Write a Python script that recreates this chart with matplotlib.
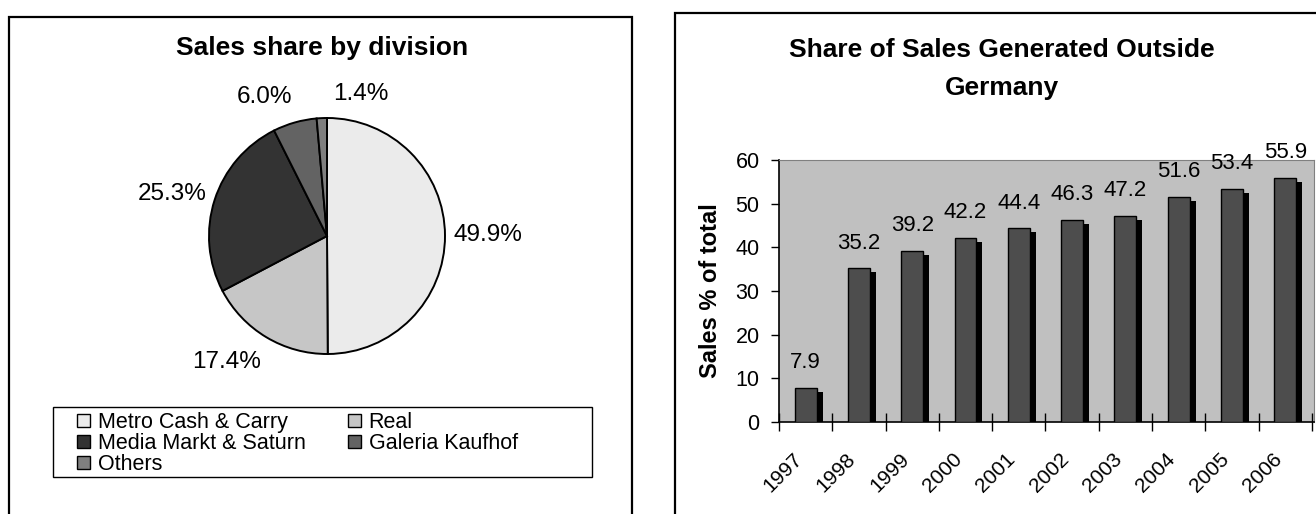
import numpy as np
import matplotlib
matplotlib.use('Agg')
import matplotlib.pyplot as plt
from matplotlib.patches import Rectangle, Patch
from matplotlib.transforms import ScaledTranslation

plt.rcParams['font.family'] = ['Liberation Sans', 'DejaVu Sans']

# Data
divisions = ['Metro Cash & Carry', 'Real', 'Media Markt & Saturn', 'Galeria Kaufhof', 'Others']
shares = [49.9, 17.4, 25.3, 6.0, 1.4]
pie_colors = ['#ebebeb', '#c6c6c6', '#333333', '#636363', '#7f7f7f']

years = ['1997', '1998', '1999', '2000', '2001', '2002', '2003', '2004', '2005', '2006']
outside_share = [7.9, 35.2, 39.2, 42.2, 44.4, 46.3, 47.2, 51.6, 53.4, 55.9]

W, H = 1316, 514


def fx(px):
    return px / W


def fy(py):
    return 1 - py / H


fig = plt.figure(figsize=(W / 100, H / 100), dpi=100)

# panel frames
fig.add_artist(Rectangle((fx(9), -0.1), fx(632) - fx(9), fy(17) + 0.1,
                         transform=fig.transFigure, fill=False, lw=1.6, ec='black'))
fig.add_artist(Rectangle((fx(675), -0.1), 0.5, fy(13) + 0.1,
                         transform=fig.transFigure, fill=False, lw=1.6, ec='black'))

# ---- pie ----
ax1 = fig.add_axes([fx(209), fy(354), fx(236), 236 / H])
wedges, _ = ax1.pie(shares, colors=pie_colors, startangle=90, counterclock=False,
                    wedgeprops=dict(edgecolor='black', linewidth=1.4))
ax1.set_xlim(-1, 1)
ax1.set_ylim(-1, 1)
label_pos = [(1.36, 0.01), (-0.85, -1.07), (-1.31, 0.36), (-0.53, 1.18), (0.29, 1.20)]
for v, (lx, ly) in zip(shares, label_pos):
    ax1.text(lx, ly, f'{v:.1f}%', ha='center', va='center', fontsize=17.5, clip_on=False)

fig.text(fx(322), fy(48), 'Sales share by division', ha='center', va='center',
         fontsize=19, fontweight='bold')

# legend box + entries in row order
fig.add_artist(Rectangle((fx(53), fy(477)), fx(592) - fx(53), 70 / H,
                         transform=fig.transFigure, fill=False, lw=1.0, ec='black'))
handles = [Patch(facecolor=c, edgecolor='black', linewidth=1.0) for c in pie_colors]
order = [0, 2, 4, 1, 3]
fig.legend([handles[i] for i in order], [divisions[i] for i in order],
           ncol=2, loc='upper left', bbox_to_anchor=(fx(77), fy(412)),
           frameon=False, fontsize=15.5, handlelength=0.6, handleheight=0.6,
           handletextpad=0.37, labelspacing=0.0, columnspacing=1.95, borderpad=0,
           borderaxespad=0)

# ---- bars ----
ax2 = fig.add_axes([fx(779), fy(422), fx(535), 262 / H])
ax2.set_facecolor('#c0c0c0')
x = np.arange(len(years))
bw = 0.41
ax2.bar(x + 0.113, np.array(outside_share) - 0.92, width=bw, color='black', zorder=2)
ax2.bar(x, outside_share, width=bw, color='#4d4d4d', edgecolor='black', linewidth=1.0, zorder=3)
for xi, v in zip(x, outside_share):
    ax2.annotate(f'{v}', (xi, v), xytext=(0, 18), textcoords='offset points',
                 ha='center', va='center', fontsize=16, annotation_clip=False)

ax2.set_xlim(-0.5, 9.54)
ax2.set_ylim(0, 60)
ax2.set_yticks(range(0, 61, 10))
ax2.tick_params(axis='y', labelsize=15.5, length=6, width=1, pad=8)
ax2.set_xticks(x)
ax2.set_xticklabels(years, rotation=45, ha='right', rotation_mode='anchor', fontsize=15)
ax2.tick_params(axis='x', which='major', length=0, pad=20)
offset = ScaledTranslation(-13 / 100, 0, fig.dpi_scale_trans)
for lbl in ax2.get_xticklabels():
    lbl.set_transform(lbl.get_transform() + offset)
ax2.set_xticks(np.arange(-0.5, 10, 1), minor=True)
ax2.tick_params(axis='x', which='minor', direction='inout', length=13, width=1)

for s in ['top', 'right']:
    ax2.spines[s].set_color('#808080')
for s in ['left', 'bottom']:
    ax2.spines[s].set_color('black')
    ax2.spines[s].set_linewidth(1.2)

ax2.set_ylabel('Sales % of total', fontsize=17, fontweight='bold')
ax2.yaxis.set_label_coords((722 - 779) / 535, 0.5)

fig.text(fx(1002), fy(50), 'Share of Sales Generated Outside', ha='center', va='center',
         fontsize=19, fontweight='bold')
fig.text(fx(1002), fy(88), 'Germany', ha='center', va='center',
         fontsize=19, fontweight='bold')

fig.savefig('out.png', dpi=100)
